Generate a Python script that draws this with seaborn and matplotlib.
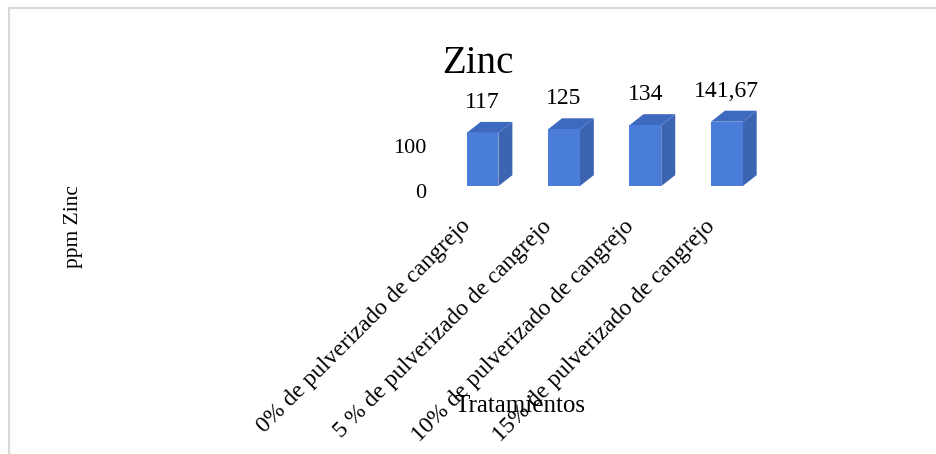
import matplotlib
matplotlib.use("Agg")
import matplotlib.pyplot as plt
import matplotlib.transforms as mtransforms
from matplotlib.patches import Polygon
import numpy as np
import pandas as pd
import seaborn as sns

# data
tratamientos = ["0% de pulverizado de cangrejo", "5 % de pulverizado de cangrejo",
                "10% de pulverizado de cangrejo", "15% de pulverizado de cangrejo"]
zinc_ppm = [117, 125, 134, 141.67]
value_labels = ["117", "125", "134", "141,67"]
y_ticks = [0, 100]

df = pd.DataFrame({"Tratamientos": tratamientos, "ppm Zinc": zinc_ppm})

sns.set_theme(style="white")
plt.rcParams['font.family'] = ['Liberation Serif', 'DejaVu Serif']
plt.rcParams['text.color'] = 'black'
plt.rcParams['axes.labelcolor'] = 'black'
plt.rcParams['xtick.color'] = 'black'
plt.rcParams['ytick.color'] = 'black'

front_col = "#4a7cda"
side_col = "#3c64b2"
top_col = "#3d69be"

fig = plt.figure(figsize=(9.36, 4.54), dpi=100)
ax = fig.add_axes([0.472, 0.590, 0.348, 0.2004])

sns.barplot(data=df, x="Tratamientos", y="ppm Zinc", color=front_col, width=0.39,
            saturation=1, edgecolor="none", linewidth=0, ax=ax, zorder=3)
ax.set_xlim(-0.5, 3.5)
ax.set_ylim(0, 200)

# fake 3d: side and top faces, depth given in pixels
depth_dx, depth_dy = 14, 11
inv = ax.transData.inverted()
for p in ax.patches[:len(zinc_ppm)]:
    x0, y0 = p.get_x(), p.get_y()
    x1, y1 = x0 + p.get_width(), y0 + p.get_height()
    pts = ax.transData.transform([(x0, y0), (x1, y0), (x0, y1), (x1, y1)])
    sh = pts + np.array([depth_dx, depth_dy])
    d = inv.transform(np.vstack([pts, sh]))
    # d: 0 bl, 1 br, 2 tl, 3 tr, 4..7 shifted
    side = Polygon([d[1], d[5], d[7], d[3]], closed=True, facecolor=side_col,
                   edgecolor="none", zorder=2, clip_on=False)
    top = Polygon([d[2], d[3], d[7], d[6]], closed=True, facecolor=top_col,
                  edgecolor="none", zorder=2, clip_on=False)
    ax.add_patch(side)
    ax.add_patch(top)

for i, v in enumerate(zinc_ppm):
    ax.annotate(value_labels[i], (i, v), xytext=(0, 18), textcoords="offset points",
                ha="center", va="baseline", fontsize=17, annotation_clip=False)

for s in ax.spines.values():
    s.set_visible(False)
ax.set_yticks(y_ticks)
ax.tick_params(axis="both", length=0)
ax.tick_params(axis="y", pad=11, labelsize=16)
ax.tick_params(axis="x", pad=0, labelsize=17)
ax.set_xticks(range(len(tratamientos)))
ax.set_xticklabels(tratamientos, rotation=45, ha="right", va="center",
                   rotation_mode="anchor")

off_x = mtransforms.ScaledTranslation(-0.15, -0.37, fig.dpi_scale_trans)
for lbl in ax.get_xticklabels():
    lbl.set_transform(lbl.get_transform() + off_x)
off_y = mtransforms.ScaledTranslation(0, -0.05, fig.dpi_scale_trans)
for lbl in ax.get_yticklabels():
    lbl.set_transform(lbl.get_transform() + off_y)

ax.set_xlabel("Tratamientos", fontsize=18)
ax.xaxis.set_label_coords(520 / 936, 1 - 395 / 454, transform=fig.transFigure)
ax.set_ylabel("ppm Zinc", fontsize=15.5)
ax.yaxis.set_label_coords(0.089, 0.502, transform=fig.transFigure)

fig.suptitle("Zinc", x=478 / 936, y=1 - 73 / 454, va="baseline", fontsize=28)

# chart frame (only top and left show in the crop)
fig.add_artist(plt.Line2D([9 / 936, 9 / 936], [0, 1 - 8 / 454], color="#d9d9d9", lw=1.5,
                          transform=fig.transFigure))
fig.add_artist(plt.Line2D([9 / 936, 1], [1 - 8 / 454, 1 - 8 / 454], color="#d9d9d9", lw=1.5,
                          transform=fig.transFigure))

plt.savefig("out.png", dpi=100)
plt.close()
